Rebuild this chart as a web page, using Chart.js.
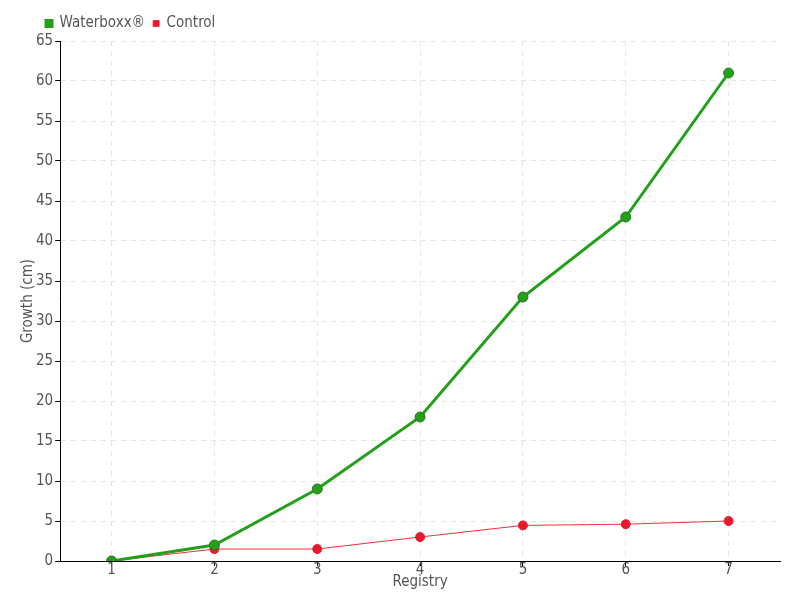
<!DOCTYPE html>
<html>
<head>
<meta charset="utf-8">
<script src="https://cdn.jsdelivr.net/npm/chart.js@4"></script>
<style>
  html, body { margin: 0; padding: 0; background: #fff; }
  #wrap { width: 800px; height: 600px; }
</style>
</head>
<body>
<div id="wrap"><canvas id="myChart" width="800" height="600"></canvas></div>
<script>
const labels = ['1', '2', '3', '4', '5', '6', '7'];
const waterboxx = [0, 2, 9, 18, 33, 43, 61];
const control = [0, 1.5, 1.5, 3, 4.45, 4.6, 5];

const font = "'DejaVu Sans Condensed', 'Liberation Sans Narrow', sans-serif";

const data = {
    labels: labels,
    datasets: [{
        label: 'Waterboxx®',
        data: waterboxx,
        borderColor: '#22a01a',
        backgroundColor: '#22a01a',
        borderWidth: 3,
        pointRadius: 5,
        pointBackgroundColor: '#22a01a',
        pointBorderColor: '#2a7a22',
        pointBorderWidth: 1,
        tension: 0
    }, {
        label: 'Control',
        data: control,
        borderColor: '#f0303e',
        backgroundColor: '#e8192c',
        borderWidth: 1,
        pointRadius: 4.5,
        pointBackgroundColor: '#e8192c',
        pointBorderColor: '#e8192c',
        pointBorderWidth: 1,
        tension: 0
    }]
};

// nudge the legend to the right, like the original
const legendShift = {
    id: 'legendShift',
    afterLayout(chart) {
        chart.legend.left += 24;
    }
};

const config = {
    type: 'line',
    data: data,
    options: {
        responsive: false,
        animation: false,
        layout: { padding: { left: 14, right: 20, top: 8, bottom: 9 } },
        plugins: {
            legend: {
                align: 'start',
                labels: {
                    boxWidth: 6,
                    boxHeight: 6,
                    padding: 8,
                    color: '#555',
                    font: { family: font, size: 15 }
                }
            },
            tooltip: { enabled: false }
        },
        scales: {
            x: {
                offset: true,
                grid: {
                    offset: false,
                    color: '#e4e4e4',
                    tickColor: '#000',
                    tickLength: 5
                },
                border: { color: '#000', width: 1, dash: [5, 5] },
                ticks: { color: '#555', font: { family: font, size: 15 }, padding: -5 },
                title: {
                    display: true,
                    text: 'Registry',
                    color: '#555',
                    font: { family: font, size: 15 },
                    padding: { top: -1, bottom: 0 }
                }
            },
            y: {
                min: 0,
                max: 65,
                grid: {
                    color: '#e4e4e4',
                    tickColor: '#000',
                    tickLength: 5
                },
                border: { color: '#000', width: 1, dash: [5, 5] },
                ticks: { stepSize: 5, color: '#555', font: { family: font, size: 15 }, padding: 2 },
                title: {
                    display: true,
                    text: 'Growth (cm)',
                    color: '#555',
                    font: { family: font, size: 15 },
                    padding: { top: 5, bottom: -3 }
                }
            }
        }
    },
    plugins: [legendShift]
};

const myChart = new Chart(
    document.getElementById('myChart'),
    config
);
</script>
</body>
</html>
